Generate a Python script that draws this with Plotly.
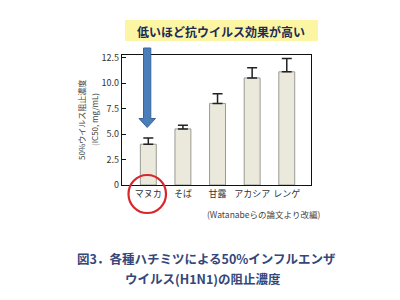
import plotly.graph_objects as go

categories = ["マヌカ", "そば", "甘露", "アカシア", "レンゲ"]
ic50 = [4.0, 5.5, 8.0, 10.5, 11.1]
err_up = [0.6, 0.35, 0.95, 1.0, 1.3]
ytick_vals = [0, 2.5, 5.0, 7.5, 10.0, 12.5]
ytick_text = ["0", "2.5", "5.0", "7.5", "10.0", "12.5"]

FONT = "Noto Sans CJK JP, Noto Sans, sans-serif"

# plot area in pixels: x 122..311, y 55..185
L, R, T, B = 122, 311, 55, 185
W, H = 400, 300
def px(x):
    return (x - L) / (R - L)
def py(y):
    return (B - y) / (B - T)

fig = go.Figure()
fig.add_trace(go.Bar(
    x=list(range(len(categories))), y=ic50, width=0.46,
    marker=dict(color="#ebe9dc", line=dict(color="#9a9a94", width=1)),
    error_y=dict(type="data", symmetric=False, array=err_up,
                 arrayminus=[0] * len(ic50), color="#222222", thickness=1.5, width=5),
))

shapes = []
# yellow highlight behind headline
shapes.append(dict(type="rect", xref="paper", yref="paper",
                   x0=px(125), x1=px(318), y0=py(41), y1=py(20),
                   fillcolor="#fcf6a4", line=dict(width=0), layer="below"))
# blue block arrow
pts = [(143.5, 48), (150.8, 48), (150.8, 118.5), (155.5, 118.5), (147.2, 127.5),
       (139.0, 118.5), (143.5, 118.5)]
path = "M " + " L ".join(f"{px(a):.4f},{py(b):.4f}" for a, b in pts) + " Z"
shapes.append(dict(type="path", xref="paper", yref="paper", path=path,
                   fillcolor="#4a7ebb", line=dict(color="#3a6498", width=1)))
# red circle
shapes.append(dict(type="circle", xref="paper", yref="paper",
                   x0=px(128.5), x1=px(166), y0=py(213), y1=py(175),
                   line=dict(color="#d8262b", width=2.2)))

annotations = [
    dict(text="<b>低いほど抗ウイルス効果が高い</b>", xref="paper", yref="paper",
         x=px(221), y=py(31), showarrow=False, xanchor="center", yanchor="middle",
         font=dict(family=FONT, size=12, color="#1d2b55")),
    dict(text="50%ウイルス阻止濃度", xref="paper", yref="paper",
         x=px(81), y=py(120), showarrow=False, textangle=-90,
         xanchor="center", yanchor="middle",
         font=dict(family=FONT, size=8, color="#444444")),
    dict(text="(IC50, mg/mL)", xref="paper", yref="paper",
         x=px(94), y=py(120), showarrow=False, textangle=-90,
         xanchor="center", yanchor="middle",
         font=dict(family=FONT, size=8, color="#444444")),
    dict(text="(Watanabeらの論文より改編)", xref="paper", yref="paper",
         x=px(205), y=py(214), showarrow=False, xanchor="left", yanchor="middle",
         font=dict(family=FONT, size=8.5, color="#444444")),
    dict(text="<b>図3．各種ハチミツによる50%インフルエンザ</b>", xref="paper", yref="paper",
         x=px(75), y=py(258), showarrow=False, xanchor="left", yanchor="middle",
         font=dict(family=FONT, size=12.5, color="#34477a")),
    dict(text="<b>ウイルス(H1N1)の阻止濃度</b>", xref="paper", yref="paper",
         x=px(123), y=py(278), showarrow=False, xanchor="left", yanchor="middle",
         font=dict(family=FONT, size=12.5, color="#34477a")),
]

fig.update_layout(
    width=W, height=H,
    margin=dict(l=L, r=W - R, t=T, b=H - B, pad=0),
    paper_bgcolor="white", plot_bgcolor="white",
    showlegend=False,
    shapes=shapes, annotations=annotations,
    font=dict(family=FONT, color="#333333"),
    xaxis=dict(range=[-0.76, 4.70], tickvals=list(range(len(categories))),
               ticktext=categories, tickangle=0, showline=True, linecolor="#111111",
               linewidth=1.2, mirror=True, ticks="", showgrid=False, zeroline=False,
               tickfont=dict(family=FONT, size=9, color="#333333")),
    yaxis=dict(range=[0, 12.75], tickvals=ytick_vals, ticktext=ytick_text,
               showline=True, linecolor="#111111", linewidth=1.2, mirror=True,
               ticks="inside", ticklen=4, tickcolor="#111111", showgrid=False,
               zeroline=False, tickfont=dict(family=FONT, size=9, color="#333333")),
)

fig.write_html("out.html")
